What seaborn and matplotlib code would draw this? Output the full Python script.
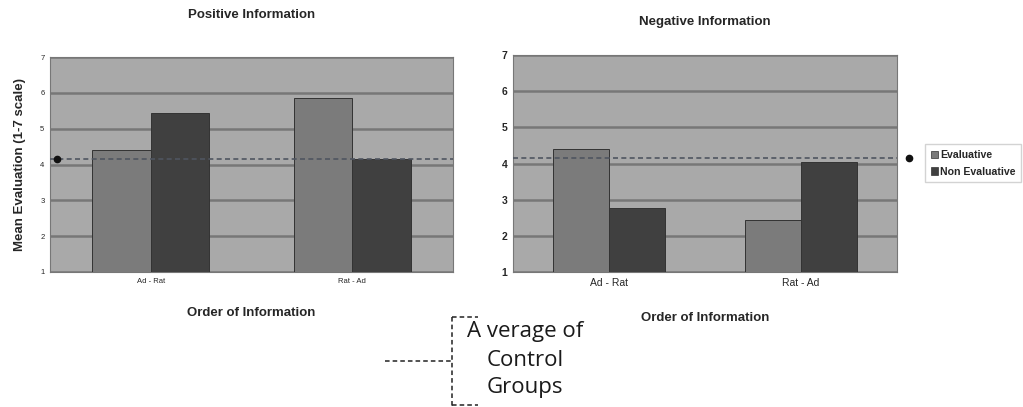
import matplotlib

matplotlib.use("Agg")
import matplotlib.pyplot as plt
import pandas as pd
import seaborn as sns
from matplotlib.lines import Line2D
from matplotlib.patches import Patch

# data
orders = ["Ad - Rat", "Rat - Ad"]
conditions = ["Evaluative", "Non Evaluative"]
positive_eval = [4.4, 5.85]
positive_non_eval = [5.45, 4.15]
negative_eval = [4.4, 2.45]
negative_non_eval = [2.78, 4.05]
control_average = 4.15
y_ticks = [1, 2, 3, 4, 5, 6, 7]

bg_color = "#a9a9a9"
bar_colors = ["#7b7b7b", "#404040"]
grid_color = "#777777"


def make_frame(eval_vals, non_eval_vals):
    rows = []
    for order, ev, nv in zip(orders, eval_vals, non_eval_vals):
        rows.append({"order": order, "condition": conditions[0], "value": ev})
        rows.append({"order": order, "condition": conditions[1], "value": nv})
    return pd.DataFrame(rows)


def draw_panel(ax, df, tick_size, tick_weight, dot_x):
    ax.set_facecolor(bg_color)
    sns.barplot(
        data=df, x="order", y="value", hue="condition", order=orders,
        hue_order=conditions, palette=bar_colors, width=0.58,
        edgecolor="#333333", linewidth=0.7, legend=False, ax=ax, zorder=3,
    )
    ax.set_ylim(1, 7)
    ax.set_xlim(-0.5, 1.5)
    ax.set_yticks(y_ticks)
    ax.yaxis.grid(True, color=grid_color, linewidth=1.8, zorder=0)
    ax.set_axisbelow(True)
    ax.axhline(control_average, color="#4f5560", linestyle=(0, (3, 2)), linewidth=1.2, zorder=4)
    ax.plot([dot_x], [control_average], "o", color="#111111", markersize=4.5,
            transform=ax.get_yaxis_transform(), clip_on=False, zorder=5)
    for s in ax.spines.values():
        s.set_color("#777777")
        s.set_linewidth(0.8)
    ax.tick_params(axis="both", length=0, labelsize=tick_size, pad=4)
    for lab in ax.get_yticklabels():
        lab.set_fontweight(tick_weight)
    ax.set_ylabel("")


sns.set_theme(style="white")
plt.rcParams["font.family"] = ["Liberation Sans", "DejaVu Sans"]

fig = plt.figure(figsize=(10.23, 4.07), dpi=100)
ax1 = fig.add_axes([0.0489, 0.3317, 0.394, 0.528])
ax2 = fig.add_axes([0.5015, 0.3317, 0.3754, 0.533])

draw_panel(ax1, make_frame(positive_eval, positive_non_eval), 5.5, "normal", 0.018)
draw_panel(ax2, make_frame(negative_eval, negative_non_eval), 7.5, "bold", 1.03)

ax1.set_title("Positive Information", fontsize=9.5, fontweight="bold", pad=28)
ax2.set_title("Negative Information", fontsize=9.5, fontweight="bold", pad=22)
ax1.set_xlabel("Order of Information", fontsize=9.5, fontweight="bold", labelpad=16.5)
ax2.set_xlabel("Order of Information", fontsize=9.5, fontweight="bold", labelpad=17.5)
ax1.set_ylabel("Mean Evaluation (1-7 scale)", fontsize=9.5, fontweight="bold", labelpad=10)

handles = [Patch(facecolor=c, edgecolor="#333333", linewidth=0.5) for c in bar_colors]
fig.legend(handles, conditions, loc="upper left", bbox_to_anchor=(0.904, 0.645),
           prop={"size": 7.6, "weight": "bold"}, frameon=True, edgecolor="#c8c8c8",
           fancybox=False, handlelength=0.7, handleheight=0.7, handletextpad=0.2,
           borderpad=0.55, labelspacing=0.6, borderaxespad=0)

# "Average of Control Groups" bracket annotation
def fx(px):
    return px / 1023


def fy(py):
    return 1 - py / 407


dash = (0, (3, 2))
for xs, ys in [
    ([385, 452], [361, 361]),
    ([452, 452], [317, 407]),
    ([452, 478], [317, 317]),
    ([452, 478], [405, 405]),
]:
    fig.add_artist(Line2D([fx(x) for x in xs], [fy(y) for y in ys],
                          color="#222222", linewidth=1.1, linestyle=dash))

for text, py in [("A verage of", 332), ("Control", 361), ("Groups", 388)]:
    fig.text(fx(525), fy(py), text, ha="center", va="center", fontsize=16,
             family=["Open Sans", "DejaVu Sans"], color="#1a1a1a")

fig.savefig("out.png", dpi=100)
